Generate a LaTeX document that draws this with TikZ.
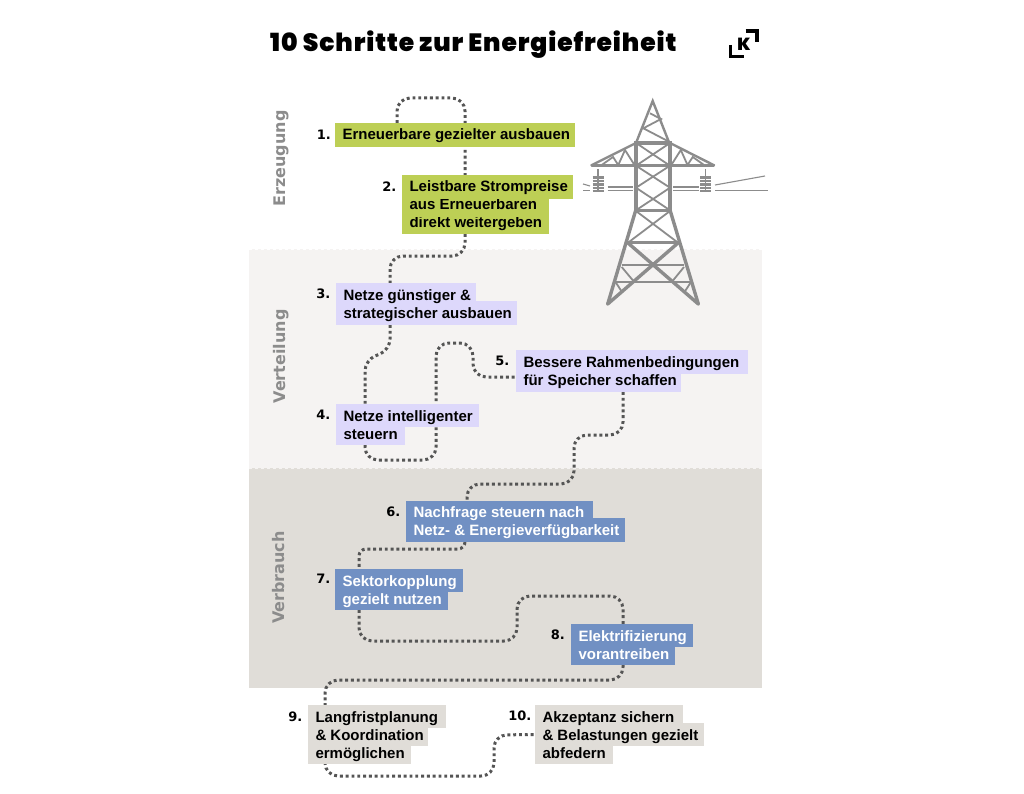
\documentclass[tikz,border=0pt]{standalone}
\usepackage{fontspec}
\usetikzlibrary{calc}
\setmainfont{Liberation Sans}
\newfontfamily\titlef[UprightFont={* Black},LetterSpace=3.6]{Poppins}
\newfontfamily\logof[UprightFont={* Black}]{Poppins}
\newfontfamily\heavyf{DejaVu Sans}
\definecolor{grn}{HTML}{BDCF55}
\definecolor{lil}{HTML}{DDD8FB}
\definecolor{blu}{HTML}{7190C3}
\definecolor{sand}{HTML}{E0DDD8}
\definecolor{pale}{HTML}{F5F3F2}
\definecolor{gry}{HTML}{8C8C8C}
\definecolor{dotc}{HTML}{555555}
\pgfdeclarelayer{conns}\pgfdeclarelayer{boxes}\pgfsetlayers{main,conns,boxes}
\tikzset{
  x=1pt,y=-1pt,
  conn/.style={draw=dotc,line width=3pt,dash pattern=on 2.9pt off 2.9pt,rounded corners=13pt},
  lineb/.style={inner xsep=7.5pt,inner ysep=0pt,outer sep=0pt,anchor=base west,font=\fontsize{15}{18}\bfseries,text=black},
  wh/.style={text=white},
  num/.style={font=\heavyf\fontsize{13}{16}\bfseries,anchor=base east,inner sep=0pt,text=black},
  side/.style={rotate=90,font=\heavyf\fontsize{16}{20}\bfseries,text=gry,inner sep=0pt},
  tt/.style={draw=gry,line width=3.4pt,line cap=round},
  tm/.style={draw=gry,line width=2.4pt},
  ts/.style={draw=gry,line width=1.8pt},
  wire/.style={draw=gry,line width=1.1pt},
  edgewave/.style={line width=2pt,dash pattern=on 3pt off 3pt},
}
% name, colour, extra style, x0, x1, top, baseline, bottom, text
\newcommand\stepline[9]{%
  \pgfmathsetmacro\wdA{#5-#4-15}%
  \pgfmathsetmacro\htA{#7-#6}%
  \pgfmathsetmacro\dpA{#8-#7}%
  \node[lineb,fill=#2,#3,text height=\htA pt,text depth=\dpA pt] (#1) at (#4,#7) {\makebox[\wdA pt][l]{#9}};%
}
\begin{document}
\begin{tikzpicture}
\useasboundingbox (0,0) rectangle (1024,794);
\fill[white] (0,0) rectangle (1024,794);
% bands
\fill[pale] (249,249) rectangle (762,468);
\fill[sand] (249,468) rectangle (762,688);
\draw[white,edgewave] (249,249) -- (762,249);
\draw[pale,edgewave] (249,468) -- (762,468);
\draw[white,edgewave] (249,688.5) -- (762,688.5);
% title
\node[anchor=base west,inner sep=0pt,font=\titlef\fontsize{25}{30}\selectfont] (title) at (270,52) {10 Schritte zur Energiefreiheit};
% logo
\draw[black,line width=3.1pt] (730.5,45) -- (730.5,56.8) -- (743.5,56.8);
\draw[black,line width=3.1pt] (745.5,31) -- (757,31) -- (757,42.5);
\node[font=\logof\fontsize{17.5}{17.5}\selectfont,inner sep=0pt] (logok) at (744,44.5) {K};
% side labels
\node[side] (s1) at (281,158.5) {Erzeugung};
\node[side] (s2) at (281,356.5) {Verteilung};
\node[side] (s3) at (279,577.5) {Verbrauch};
% tower: insulators and wires
\draw[ts] (598,169) -- (598,192);
\draw[ts] (705.5,169) -- (705.5,192);
\foreach \y in {177.5,181,184.5,188,191}{
  \draw[gry,line width=2.3pt] (592.5,\y) -- (603.5,\y);
  \draw[gry,line width=2.3pt] (700,\y) -- (711,\y);
}
\draw[wire] (583,184) -- (590,186);
\draw[wire] (583,190.5) -- (590,190.5);
\draw[wire] (607.5,187) -- (632.5,187);
\draw[wire] (607.5,190.5) -- (632.5,190.5);
\draw[wire] (673,187) -- (698.5,187);
\draw[wire] (673,190.5) -- (698.5,190.5);
\draw[wire] (715,190.5) -- (767.5,190.5);
\draw[wire] (715,185) -- (765,176);
% tower: spire
\draw[tm,line join=miter] (636,143) -- (652.7,101) -- (669.3,143);
\draw[ts] (650,113.3) -- (661,119) -- (643.3,128.3) -- (667.7,141);
% tower: mast
\draw[tt,line cap=butt] (635.8,141.5) -- (635.8,212);
\draw[tt,line cap=butt] (670,141.5) -- (670,212);
\draw[tt,line cap=butt] (634,143) -- (671.7,143);
\draw[tt,line cap=butt] (634,210.8) -- (671.7,210.8);
% tower: arms
\draw[tm] (591,165.5) -- (636,143);
\draw[tm] (714.5,165.5) -- (670,143);
\draw[tt,line cap=round] (592,165.7) -- (713.5,165.7);
\draw[ts] (601.7,165) -- (613,157) -- (618.3,165) -- (625,150) -- (634.5,165);
\draw[ts] (704,165) -- (692.8,157) -- (687.5,165) -- (680.8,150) -- (671.3,165);
% tower: mast crosses
\draw[ts] (636,143) -- (670,165.7);
\draw[ts] (670,143) -- (636,165.7);
\draw[ts] (636,165.7) -- (670,187.7);
\draw[ts] (670,165.7) -- (636,187.7);
\draw[ts] (636,187.7) -- (670,210.3);
\draw[ts] (670,187.7) -- (636,210.3);
% tower: legs
\draw[tt] (635.5,211) -- (607.7,304);
\draw[tt] (670.3,211) -- (698.3,304);
\draw[tt,line cap=butt] (628,242.7) -- (678,242.7);
\draw[ts] (636,211) -- (678,242.7);
\draw[ts] (670,211) -- (628,242.7);
\draw[tt] (628,243) -- (698.3,304);
\draw[tt] (678,243) -- (607.7,304);
\draw[ts] (621.7,265) -- (684,265);
\draw[ts] (615.5,281.7) -- (691,281.7);
\draw[ts] (621.7,267) -- (634,281.7);
\draw[ts] (684,267) -- (672,281.7);
\draw[ts] (615.5,282) -- (622,292);
\draw[ts] (691,282) -- (684.5,292);
% step boxes
\begin{pgfonlayer}{boxes}
\stepline{b1a}{grn}{}{335}{575}{123}{140}{147}{Erneuerbare gezielter ausbauen}
\stepline{b2c}{grn}{}{402}{549}{217}{228}{234}{direkt weitergeben}
\stepline{b2b}{grn}{}{402}{549}{199}{210}{217}{aus Erneuerbaren}
\stepline{b2a}{grn}{}{402}{573}{175}{192}{199}{Leistbare Strompreise}
\stepline{b3b}{lil}{}{336}{517}{301}{318}{325}{strategischer ausbauen}
\stepline{b3a}{lil}{}{336}{476}{283}{300}{301}{Netze günstiger \&}
\stepline{b4b}{lil}{}{336}{405}{427}{439}{445}{steuern}
\stepline{b4a}{lil}{}{336}{479}{404}{421}{427}{Netze intelligenter}
\stepline{b5b}{lil}{}{516}{681}{374}{385}{392}{für Speicher schaffen}
\stepline{b5a}{lil}{}{516}{748}{350}{367}{374}{Bessere Rahmenbedingungen}
\stepline{b6b}{blu}{wh}{406}{625}{518}{535}{542}{Netz- \& Energieverfügbarkeit}
\stepline{b6a}{blu}{wh}{406}{593}{501}{517.5}{518}{Nachfrage steuern nach}
\stepline{b7b}{blu}{wh}{335}{448}{592}{604}{610}{gezielt nutzen}
\stepline{b7a}{blu}{wh}{335}{463}{569}{586}{592}{Sektorkopplung}
\stepline{b8b}{blu}{wh}{571}{675}{647}{659}{665}{vorantreiben}
\stepline{b8a}{blu}{wh}{571}{693}{624}{641}{647}{Elektrifizierung}
\stepline{b9c}{sand}{}{308}{411}{746}{758}{764}{ermöglichen}
\stepline{b9b}{sand}{}{308}{428}{728}{740}{746}{\& Koordination}
\stepline{b9a}{sand}{}{308}{446}{705}{722}{728}{Langfristplanung}
\stepline{b10c}{sand}{}{535}{613}{746}{758}{764}{abfedern}
\stepline{b10b}{sand}{}{535}{704}{723}{740}{746}{\& Belastungen gezielt}
\stepline{b10a}{sand}{}{535}{683}{705}{722}{723}{Akzeptanz sichern}
% numbers
\node[num] (n1) at (331,139.5) {1.};
\node[num] (n2) at (396.5,191.5) {2.};
\node[num] (n3) at (330.5,298.5) {3.};
\node[num] (n4) at (330.5,419.5) {4.};
\node[num] (n5) at (509.5,365.5) {5.};
\node[num] (n6) at (400.5,516.5) {6.};
\node[num] (n7) at (330.5,583.5) {7.};
\node[num] (n8) at (565,639.5) {8.};
\node[num] (n9) at (302.5,721.5) {9.};
\node[num] (n10) at (531.5,720.5) {10.};
\end{pgfonlayer}
% connectors
\begin{pgfonlayer}{conns}
\draw[conn] ($(b1a.north west)+(62,0)$) -- (397,98) -- (465,98) -- ($(b2a.north west)+(63,0)$);
\draw[conn] ($(b2c.south west)+(63,0)$) -- (465,256) -- (390,256) -- ($(b3a.north west)+(54,0)$);
\draw[conn,rounded corners=11pt] ($(b3b.south west)+(54,0)$) -- (390,350) -- (365,360) -- ($(b4a.north west)+(29,0)$);
\draw[conn] ($(b4b.south west)+(29,0)$) -- (365,460) -- (436,460) -- (436,343) -- (473,343) -- (473,377) -- ($(b5b.north west)+(0,3)$);
\draw[conn] ($(b5b.south west)+(107,0)$) -- (623,435) -- (574,435) -- (574,484) -- (467,484) -- ($(b6a.north west)+(61,0)$);
\draw[conn,rounded corners=7pt] ($(b6b.south west)+(59,0)$) -- (465,549) -- (359,549) -- ($(b7a.north west)+(24,0)$);
\draw[conn] ($(b7b.south west)+(24,0)$) -- (359,641) -- (517,641) -- (517,596) -- (623,596) -- ($(b8a.north west)+(52,0)$);
\draw[conn] ($(b8b.south west)+(52,0)$) -- (623,680) -- (325,680) -- ($(b9a.north west)+(17,0)$);
\draw[conn] ($(b9c.south west)+(17,0)$) -- (325,776) -- (494,776) -- (494,735) -- (b10b.west);
\end{pgfonlayer}
\end{tikzpicture}
\end{document}
